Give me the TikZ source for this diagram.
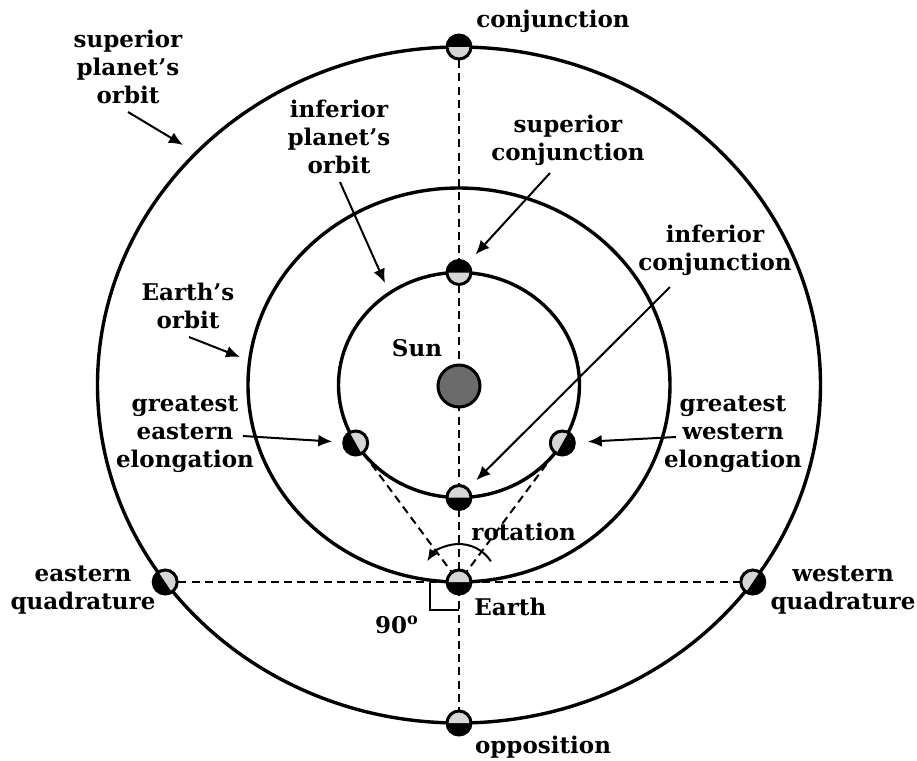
\documentclass[tikz,border=0pt]{standalone}
\usepackage{fontspec}
\setmainfont{DejaVu Serif}
\usetikzlibrary{arrows.meta,backgrounds}
\definecolor{litgray}{HTML}{D6D6D6}
\definecolor{sungray}{HTML}{6B6B6B}
\begin{document}
\begin{tikzpicture}[x=0.5pt,y=-0.5pt,
  orbit/.style={line width=1.7pt},
  guide/.style={line width=1pt, dash pattern=on 4pt off 2.6pt},
  pointer/.style={line width=1pt, -{Latex[length=7pt,width=6pt]}},
  lbl/.style={font=\fontsize{11.5}{14}\selectfont\bfseries, align=center, inner sep=0pt},
  planet/.style={circle, draw, line width=1.5pt, fill=black, minimum size=12pt, inner sep=0pt,
    path picture={\fill[litgray] (path picture bounding box.center) ++({-(#1)-90}:30)
      arc[start angle={-(#1)-90}, delta angle=180, radius=30] -- cycle;}},
]
\useasboundingbox (0,0) rectangle (917,761);
\coordinate (c) at (459,385);

% sun and planets
\node[circle, draw, line width=1.5pt, fill=sungray, minimum size=21pt, inner sep=0pt] (sun) at (459,386) {};
\node[planet=-90] (conj) at (459,47) {};
\node[planet=-90] (supconj) at (459,272.5) {};
\node[planet=90] (infconj) at (459,497.5) {};
\node[planet=90] (earth) at (459,582) {};
\node[planet=90] (opp) at (459,723) {};
\node[planet=33.8] (eq) at (165.2,582) {};
\node[planet=146.2] (wq) at (752.8,582) {};
\node[planet=29.3] (ee) at (355.7,443) {};
\node[planet=150.7] (we) at (562.3,443) {};

\begin{pgfonlayer}{background}
  \draw[orbit] (c) ellipse [x radius=361.5, y radius=338];
  \draw[orbit] (c) ellipse [x radius=211, y radius=197];
  \draw[orbit] (c) ellipse [x radius=120.5, y radius=112.5];
  \draw[guide] (conj.center) -- (opp.center);
  \draw[guide] (eq.center) -- (wq.center);
  \draw[guide] (ee.center) -- (earth.center);
  \draw[guide] (we.center) -- (earth.center);
\end{pgfonlayer}

% right angle and rotation
\draw[line width=1pt] (earth.center) ++(-29,0) |- ++(29,28);
\draw[line width=1pt, -{Latex[length=6pt,width=5pt]}] (earth.center) ++(-33:38)
  arc[start angle=-33, end angle=-147, radius=38];

% labels
\node[lbl] (lsupo) at (128,67) {superior\\planet's\\orbit};
\node[lbl] (linfo) at (339,137) {inferior\\planet's\\orbit};
\node[lbl] (learo) at (188,306) {Earth's\\orbit};
\node[lbl] (lsun) at (417,348) {Sun};
\node[lbl] (lconj) at (553,21) {conjunction};
\node[lbl] (lsupc) at (568,140) {superior\\conjunction};
\node[lbl] (linfc) at (715,250) {inferior\\conjunction};
\node[lbl] (lee) at (185,434) {greatest\\eastern\\elongation};
\node[lbl] (lwe) at (733,434) {greatest\\western\\elongation};
\node[lbl] (leq) at (83,590) {eastern\\quadrature};
\node[lbl] (lwq) at (843,590) {western\\quadrature};
\node[lbl, anchor=west] (lear) at (474,607) {Earth};
\node[lbl] (l90) at (397,625) {90\textsuperscript{o}};
\node[lbl, anchor=west] (lrot) at (471,532) {rotation};
\node[lbl] (lopp) at (543,747) {opposition};

% arrows
\coordinate (t1) at (128,112); \coordinate (h1) at (183,145);
\coordinate (t2) at (340,182); \coordinate (h2) at (385,283);
\coordinate (t3) at (189,337); \coordinate (h3) at (240,357);
\coordinate (t4) at (550,173);
\coordinate (t5) at (670,287);
\coordinate (t6) at (243,436);
\coordinate (t7) at (676,437);
\draw[pointer] (t1) -- (h1);
\draw[pointer] (t2) -- (h2);
\draw[pointer] (t3) -- (h3);
\draw[pointer, shorten >=5.5pt] (t4) -- (supconj);
\draw[pointer, shorten >=5.5pt] (t5) -- (infconj);
\draw[pointer, shorten >=5pt] (t6) -- (ee);
\draw[pointer, shorten >=6pt] (t7) -- (we);
\end{tikzpicture}
\end{document}
